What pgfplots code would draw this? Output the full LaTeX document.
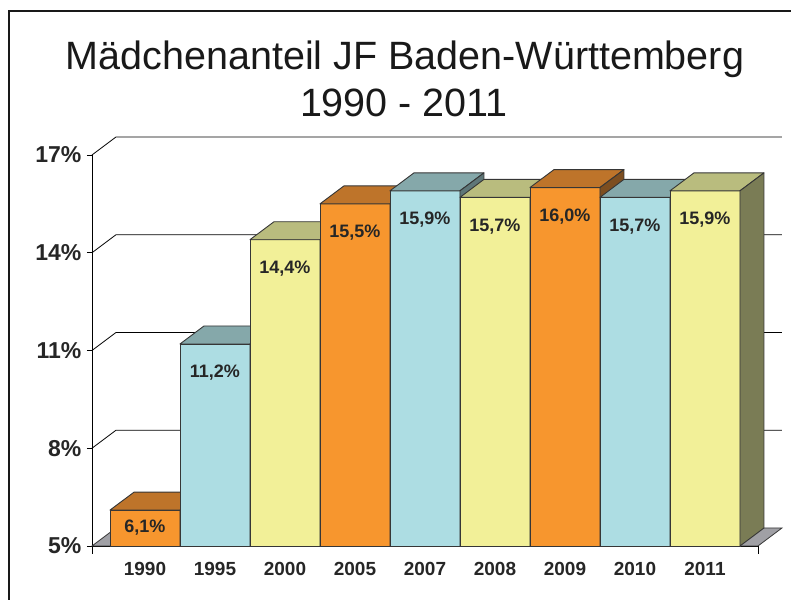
\documentclass[border=0pt]{standalone}
\usepackage{fontspec}
\setmainfont{Liberation Sans}
\usepackage{pgfplots}
\pgfplotsset{compat=1.18}
\definecolor{oF}{HTML}{F7962E}\definecolor{oT}{HTML}{BE742A}\definecolor{oS}{HTML}{7D4E20}
\definecolor{bF}{HTML}{ADDDE3}\definecolor{bT}{HTML}{85A8AA}\definecolor{bS}{HTML}{5E7678}
\definecolor{yF}{HTML}{F2F098}\definecolor{yT}{HTML}{B9BC7E}\definecolor{yS}{HTML}{7A7C55}
\definecolor{edge}{HTML}{363636}\definecolor{floor}{HTML}{A0A0A5}
% #1 index, #2 value, #3 front, #4 top, #5 side
\newcommand\threedbar[5]{%
 \pgfmathsetmacro\La{#1-0.5}\pgfmathsetmacro\Rb{#1+0.5}%
 \pgfmathsetmacro\Lt{#1-0.5+0.343}\pgfmathsetmacro\Rt{#1+0.5+0.343}%
 \pgfmathsetmacro\Vt{#2+0.552}%
 \addplot[fill=#3,draw=edge,line width=0.9pt] coordinates {(\La,5) (\Rb,5) (\Rb,#2) (\La,#2)} -- cycle;
 \addplot[fill=#4,draw=edge,line width=0.9pt,line join=round] coordinates {(\La,#2) (\Rb,#2) (\Rt,\Vt) (\Lt,\Vt)} -- cycle;
 \addplot[fill=#5,draw=edge,line width=0.9pt,line join=round] coordinates {(\Rb,5) (\Rt,5.552) (\Rt,\Vt) (\Rb,#2)} -- cycle;
}
\begin{document}
\begin{tikzpicture}
\begin{axis}[
  scale only axis, width=666pt, height=391pt,
  xmin=-0.757, xmax=8.757, ymin=5, ymax=17,
  clip=false,
  axis x line*=bottom, axis y line*=left,
  axis line style={draw=black, line width=0.9pt},
  ytick={5,8,11,14,17},
  yticklabels={5\%,8\%,11\%,14\%,17\%},
  yticklabel style={font=\fontsize{23}{23}\selectfont\bfseries, text=black!85, xshift=-2pt},
  ytick style={draw=black, line width=0.9pt},
  tick align=outside, major tick length=5pt,
  xtick={0,1,2,3,4,5,6,7,8},
  xticklabels={1990,1995,2000,2005,2007,2008,2009,2010,2011},
  xticklabel style={font=\fontsize{19}{19}\selectfont\bfseries, text=black!85, yshift=-8pt},
  x tick style={draw=none},
  extra x ticks={-0.757,8.757}, extra x tick labels={},
  extra x tick style={x tick style={draw=black, line width=0.9pt}, major tick length=8pt},
]
% back wall grid lines and side wall diagonals
\addplot[black, line width=0.8pt] coordinates {(-0.757,8) (-0.414,8.552) (9.1,8.552)};
\addplot[black, line width=0.8pt] coordinates {(-0.757,11) (-0.414,11.552) (9.1,11.552)};
\addplot[black, line width=0.8pt] coordinates {(-0.757,14) (-0.414,14.552) (9.1,14.552)};
\addplot[black, line width=0.8pt] coordinates {(-0.757,17) (-0.414,17.552) (9.1,17.552)};
% floor
\addplot[fill=floor, draw=edge, line width=0.8pt] coordinates {(-0.757,5) (8.757,5) (9.1,5.552) (-0.414,5.552)} -- cycle;
% bars
\threedbar{0}{6.1}{oF}{oT}{oS}
\threedbar{1}{11.2}{bF}{bT}{bS}
\threedbar{2}{14.4}{yF}{yT}{yS}
\threedbar{3}{15.5}{oF}{oT}{oS}
\threedbar{4}{15.9}{bF}{bT}{bS}
\threedbar{5}{15.7}{yF}{yT}{yS}
\threedbar{6}{16.0}{oF}{oT}{oS}
\threedbar{7}{15.7}{bF}{bT}{bS}
\threedbar{8}{15.9}{yF}{yT}{yS}
% value labels
\addplot[draw=none, mark=none, nodes near coords, point meta=explicit symbolic,
  every node near coord/.append style={anchor=center, yshift=-17.5pt, font=\fontsize{18}{18}\selectfont\bfseries, text=black!85}]
  coordinates {(0,6.1) [6,1\%]};
\addplot[draw=none, mark=none, nodes near coords, point meta=explicit symbolic,
  every node near coord/.append style={anchor=center, yshift=-29pt, font=\fontsize{18}{18}\selectfont\bfseries, text=black!85}]
  coordinates {(1,11.2) [11,2\%] (2,14.4) [14,4\%] (3,15.5) [15,5\%] (4,15.9) [15,9\%] (5,15.7) [15,7\%] (6,16.0) [16,0\%] (7,15.7) [15,7\%] (8,15.9) [15,9\%]};
% title
\node[anchor=base, font=\fontsize{39.5}{39.5}\selectfont, text=black!90] at (axis cs:3.714,19.61) {Mädchenanteil JF Baden-Württemberg};
\node[anchor=base, font=\fontsize{39.5}{39.5}\selectfont, text=black!90] at (axis cs:3.7,18.17) {1990 - 2011};
% frame
\draw[line width=2pt, black!90] (axis cs:-1.943,3.0) -- (axis cs:-1.943,21.42) -- (axis cs:9.5,21.42);
\coordinate (BL) at (axis cs:-2.071,3.343);
\coordinate (TR) at (axis cs:9.229,21.757);
\end{axis}
\pgfresetboundingbox
\path[use as bounding box] (BL) rectangle (TR);
\end{tikzpicture}
\end{document}
